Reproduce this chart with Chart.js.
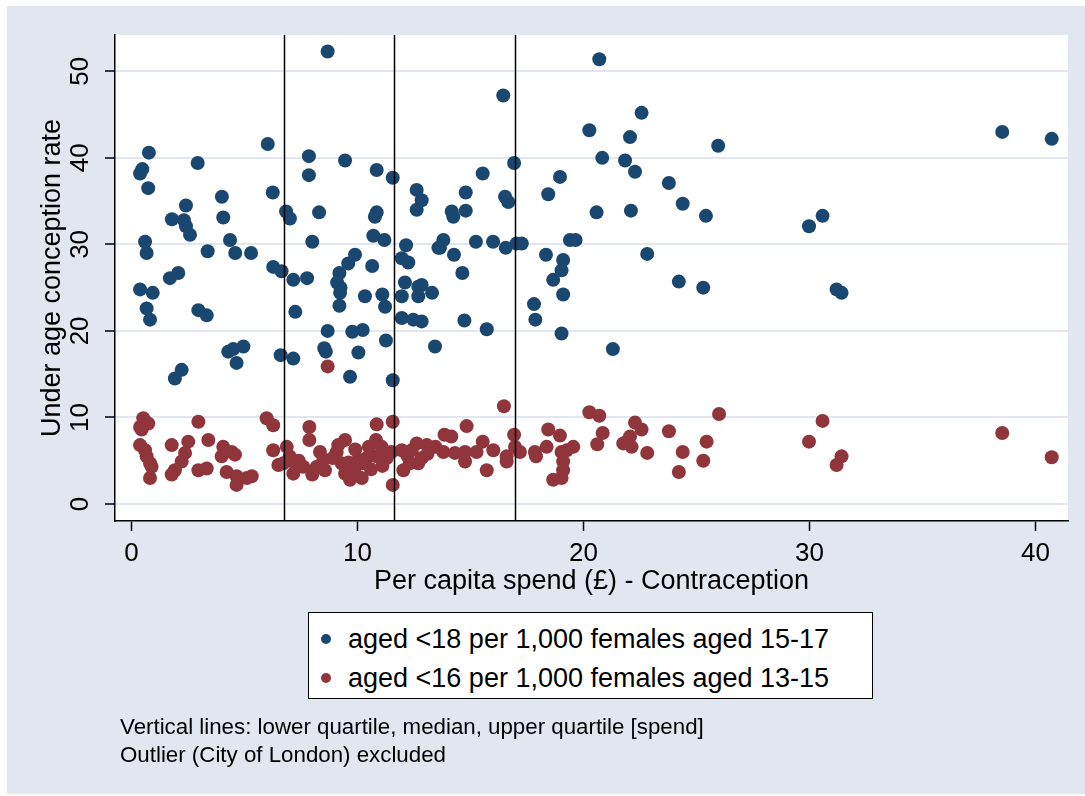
<!DOCTYPE html>
<html>
<head>
<meta charset="utf-8">
<script src="https://cdn.jsdelivr.net/npm/chart.js@4"></script>
<style>
  body { margin: 0; background: #fff; font-family: "Liberation Sans", Arial, sans-serif; }
  #wrap { position: relative; width: 1085px; height: 796px; }
  #legend {
    position: absolute; left: 308px; top: 612px; width: 565px; height: 87px;
    background: #fff; border: 1.5px solid #000; box-sizing: border-box;
  }
  .entry { position: absolute; left: 0; font-size: 27px; color: #000; white-space: nowrap; }
  .entry .dot { position: absolute; left: 12px; width: 10px; height: 10px; border-radius: 50%; }
  .entry span.lab { position: absolute; left: 39px; line-height: 30px; }
  .note { position: absolute; left: 120px; font-size: 22.3px; color: #000; white-space: nowrap; line-height: 26px; }
</style>
</head>
<body>
<div id="wrap">
  <canvas id="chart" width="1085" height="796"></canvas>
  <div id="legend"></div>
  <div class="note" style="top:714px">Vertical lines: lower quartile, median, upper quartile [spend]</div>
  <div class="note" style="top:742px">Outlier (City of London) excluded</div>
</div>
<script>
// per capita spend (x) and conception rates (y)
const spendU18 = [0.77,0.48,0.38,0.74,2.93,6.03,6.25,4.0,2.41,4.06,1.79,2.32,2.41,2.59,4.36,0.6,0.67,3.37,4.59,5.29,
  6.27,1.70,2.07,0.38,0.94,0.67,0.82,2.96,3.33,4.28,4.95,4.65,4.5,1.92,2.22,6.6,8.68,7.85,9.45,10.85,
  11.56,7.85,12.62,12.84,12.62,6.84,7.01,8.30,10.85,10.77,10.7,11.19,8.0,12.15,11.96,12.25,13.58,9.89,9.59,9.2,
  10.65,6.64,7.16,7.77,9.1,9.25,9.23,9.2,10.33,11.1,11.22,12.1,11.96,12.69,12.84,12.69,13.3,11.96,12.47,12.84,
  7.25,8.68,9.77,10.23,11.26,8.53,8.6,10.04,7.16,9.67,11.56,13.43,20.7,16.45,20.26,20.83,16.93,15.54,18.96,14.79,
  18.44,16.53,16.67,14.17,14.24,14.79,20.58,13.8,13.65,15.24,16.0,16.56,17.04,17.27,19.4,19.65,14.27,18.34,19.1,19.03,
  14.64,18.66,19.1,17.81,17.87,14.73,15.72,19.03,21.3,22.57,22.06,25.96,21.84,22.28,23.78,24.39,25.42,22.1,29.98,30.58,
  38.53,40.72,22.82,24.22,25.3,31.2,31.42];
const rateU18 = [40.6,38.7,38.2,36.5,39.4,41.6,36.0,35.5,34.5,33.1,32.9,32.8,32.1,31.1,30.5,30.3,29.0,29.2,29.0,29.0,
  27.4,26.1,26.7,24.8,24.4,22.6,21.3,22.4,21.8,17.6,18.2,16.3,17.9,14.5,15.5,17.2,52.3,40.2,39.7,38.6,
  37.7,38.0,36.3,35.1,34.0,33.8,33.0,33.7,33.7,33.2,31.0,30.5,30.3,29.9,28.4,27.9,29.6,28.8,27.8,26.7,
  27.5,26.9,25.9,26.1,25.6,25.0,24.4,22.9,24.0,24.2,22.8,25.6,24.0,25.1,25.3,24.0,24.4,21.5,21.3,21.1,
  22.2,20.0,19.9,20.1,18.9,18.0,17.6,17.5,16.8,14.7,14.3,18.2,51.4,47.2,43.2,40.0,39.4,38.2,37.8,36.0,
  35.8,35.5,34.9,33.8,33.2,33.9,33.7,30.5,29.6,30.3,30.3,29.6,30.1,30.1,30.5,30.5,28.8,28.8,28.2,27.0,
  26.7,25.9,24.2,23.1,21.3,21.2,20.2,19.7,17.9,45.2,42.4,41.4,39.7,38.4,37.1,34.7,33.3,33.9,32.1,33.3,
  43.0,42.2,28.9,25.7,25.0,24.8,24.4];

const spendU16 = [0.52,0.38,0.74,0.45,2.96,0.38,0.6,0.67,0.82,0.89,0.82,1.78,2.51,3.4,2.37,2.22,1.92,1.78,2.96,3.33,
  4.06,3.99,4.43,4.58,4.21,4.65,4.65,5.1,5.32,5.98,6.27,6.27,6.5,6.87,6.72,7.23,7.16,7.6,7.87,7.87,
  8.0,8.34,8.49,8.56,8.68,9.15,9.45,9.08,9.3,9.45,9.67,9.89,10.19,9.74,10.03,10.4,10.85,11.29,10.85,11.56,
  10.82,11.07,11.56,11.96,12.03,12.32,12.69,12.84,12.62,13.07,13.45,13.8,14.31,14.76,14.76,13.85,14.15,14.83,15.27,15.54,
  16.01,15.72,16.48,16.6,16.6,16.93,16.97,17.19,17.85,17.9,18.37,18.44,18.96,19.03,19.1,19.1,19.03,18.66,19.55,19.26,
  20.26,20.7,20.85,20.61,22.28,22.57,21.91,22.13,22.06,21.76,22.82,23.78,24.39,24.22,25.45,25.3,26.0,29.98,30.58,31.2,
  31.42,38.53,40.72,7.4,8.2,9.6,10.2,11.1,12.2,10.5,7.0,8.9,9.9,11.5,12.4,10.6,13.1];
const rateU16 = [9.9,8.9,9.3,8.6,9.5,6.8,6.2,5.5,4.7,4.3,3.0,6.8,7.2,7.4,5.9,4.9,3.9,3.4,3.9,4.1,
  6.6,5.5,6.0,5.7,3.7,3.2,2.2,3.0,3.2,9.9,9.1,6.2,4.5,6.6,4.7,4.7,3.5,4.3,8.9,7.4,
  3.4,6.0,5.1,3.9,15.9,6.8,7.4,6.0,4.7,3.5,2.8,3.5,3.0,3.9,5.1,5.3,5.5,5.3,9.2,9.5,
  7.4,6.6,2.2,6.2,3.9,4.7,4.7,5.3,7.0,6.8,6.6,6.0,5.9,6.0,4.9,8.0,7.8,9.0,6.0,7.2,
  6.2,3.9,11.3,5.5,4.9,8.0,6.6,6.0,6.0,5.5,6.6,8.6,7.9,6.0,4.9,3.9,3.0,2.8,6.6,6.2,
  10.6,10.2,8.2,6.9,9.4,8.6,7.2,6.6,7.8,7.0,5.9,8.4,6.0,3.7,7.2,5.0,10.4,7.2,9.6,4.5,
  5.5,8.2,5.4,5.0,4.3,4.8,4.7,4.4,5.6,6.6,5.5,5.3,6.3,6.0,6.2,4.0,5.8];

const seriesLabels = ['aged <18 per 1,000 females aged 15-17', 'aged <16 per 1,000 females aged 13-15'];
const seriesColors = ['rgb(26,71,111)', 'rgb(144,53,59)'];
const xTicks = [0, 10, 20, 30, 40];
const yTicks = [0, 10, 20, 30, 40, 50];
const quartiles = [6.76, 11.6, 16.96];

const toPoints = (xs, ys) => xs.map((x, i) => ({x: x, y: ys[i]}));

const FONT = '"Liberation Sans", Arial, sans-serif';
const bgBlue = '#e1e6f0';

const backdrop = {
  id: 'backdrop',
  beforeDraw(chart) {
    const {ctx, chartArea: a} = chart;
    ctx.save();
    ctx.fillStyle = '#fff';
    ctx.fillRect(0, 0, chart.width, chart.height);
    ctx.fillStyle = bgBlue;
    ctx.fillRect(7, 6, chart.width - 7, chart.height - 8);
    ctx.fillStyle = '#fff';
    ctx.fillRect(a.left, a.top, a.right - a.left, a.bottom - a.top);
    ctx.restore();
  }
};

// quartile lines + rotated y tick labels
const extras = {
  id: 'extras',
  afterDatasetsDraw(chart) {
    const {ctx, chartArea: a, scales: {x}} = chart;
    ctx.save();
    ctx.strokeStyle = '#000';
    ctx.lineWidth = 1.5;
    quartiles.forEach(q => {
      const px = Math.round(x.getPixelForValue(q)) + 0.5;
      ctx.beginPath();
      ctx.moveTo(px, a.top);
      ctx.lineTo(px, a.bottom);
      ctx.stroke();
    });
    ctx.restore();
  },
  afterDraw(chart) {
    const {ctx, scales: {y}} = chart;
    ctx.save();
    ctx.fillStyle = '#000';
    ctx.font = '26px ' + FONT;
    ctx.textAlign = 'center';
    ctx.textBaseline = 'middle';
    yTicks.forEach(v => {
      const py = y.getPixelForValue(v);
      ctx.save();
      ctx.translate(y.right - 35, py);
      ctx.rotate(-Math.PI / 2);
      ctx.fillText(String(v), 0, 1);
      ctx.restore();
    });
    ctx.restore();
  }
};

const chart = new Chart(document.getElementById('chart'), {
  type: 'scatter',
  data: {
    datasets: [
      {
        label: seriesLabels[0],
        data: toPoints(spendU18, rateU18),
        backgroundColor: seriesColors[0],
        borderWidth: 0,
        pointRadius: 7,
        order: 2
      },
      {
        label: seriesLabels[1],
        data: toPoints(spendU16, rateU16),
        backgroundColor: seriesColors[1],
        borderWidth: 0,
        pointRadius: 7,
        order: 1
      }
    ]
  },
  options: {
    responsive: false,
    animation: false,
    layout: { padding: { left: 32, top: 35, right: 17, bottom: 194 } },
    plugins: { legend: { display: false }, tooltip: { enabled: false } },
    scales: {
      x: {
        type: 'linear',
        min: -0.73, max: 41.44,
        afterBuildTicks: s => { s.ticks = xTicks.map(v => ({value: v})); },
        afterFit: s => { s.height = 81; },
        ticks: { color: '#000', font: { family: FONT, size: 26 }, padding: 7, maxRotation: 0 },
        grid: { drawOnChartArea: false, drawTicks: true, tickLength: 10, tickColor: '#000', tickWidth: 1.5 },
        border: { color: '#000', width: 1.5 },
        title: { display: true, text: 'Per capita spend (£) - Contraception', color: '#000',
                 font: { family: FONT, size: 27 }, padding: { top: 4, bottom: 4 } }
      },
      y: {
        type: 'linear',
        min: -1.97, max: 54.2,
        afterBuildTicks: s => { s.ticks = yTicks.map(v => ({value: v})); },
        afterFit: s => { s.width = 83; },
        ticks: { color: 'rgba(0,0,0,0)', font: { family: FONT, size: 26 } },
        grid: { color: bgBlue, lineWidth: 2, tickLength: 10, tickColor: '#000', tickWidth: 1.5 },
        border: { color: '#000', width: 1.5 },
        title: { display: true, text: 'Under age conception rate', color: '#000',
                 font: { family: FONT, size: 27 }, padding: { top: 4, bottom: 4 } }
      }
    }
  },
  plugins: [backdrop, extras]
});

// legend box built from the dataset labels and colours
const legend = document.getElementById('legend');
chart.data.datasets.forEach((ds, i) => {
  const row = document.createElement('div');
  row.className = 'entry';
  row.style.top = (11 + i * 39) + 'px';
  row.innerHTML = '<div class="dot" style="top:10px;background:' + ds.backgroundColor + '"></div>' +
                  '<span class="lab">' + ds.label.replace(/</g, '&lt;') + '</span>';
  legend.appendChild(row);
});
</script>
</body>
</html>
